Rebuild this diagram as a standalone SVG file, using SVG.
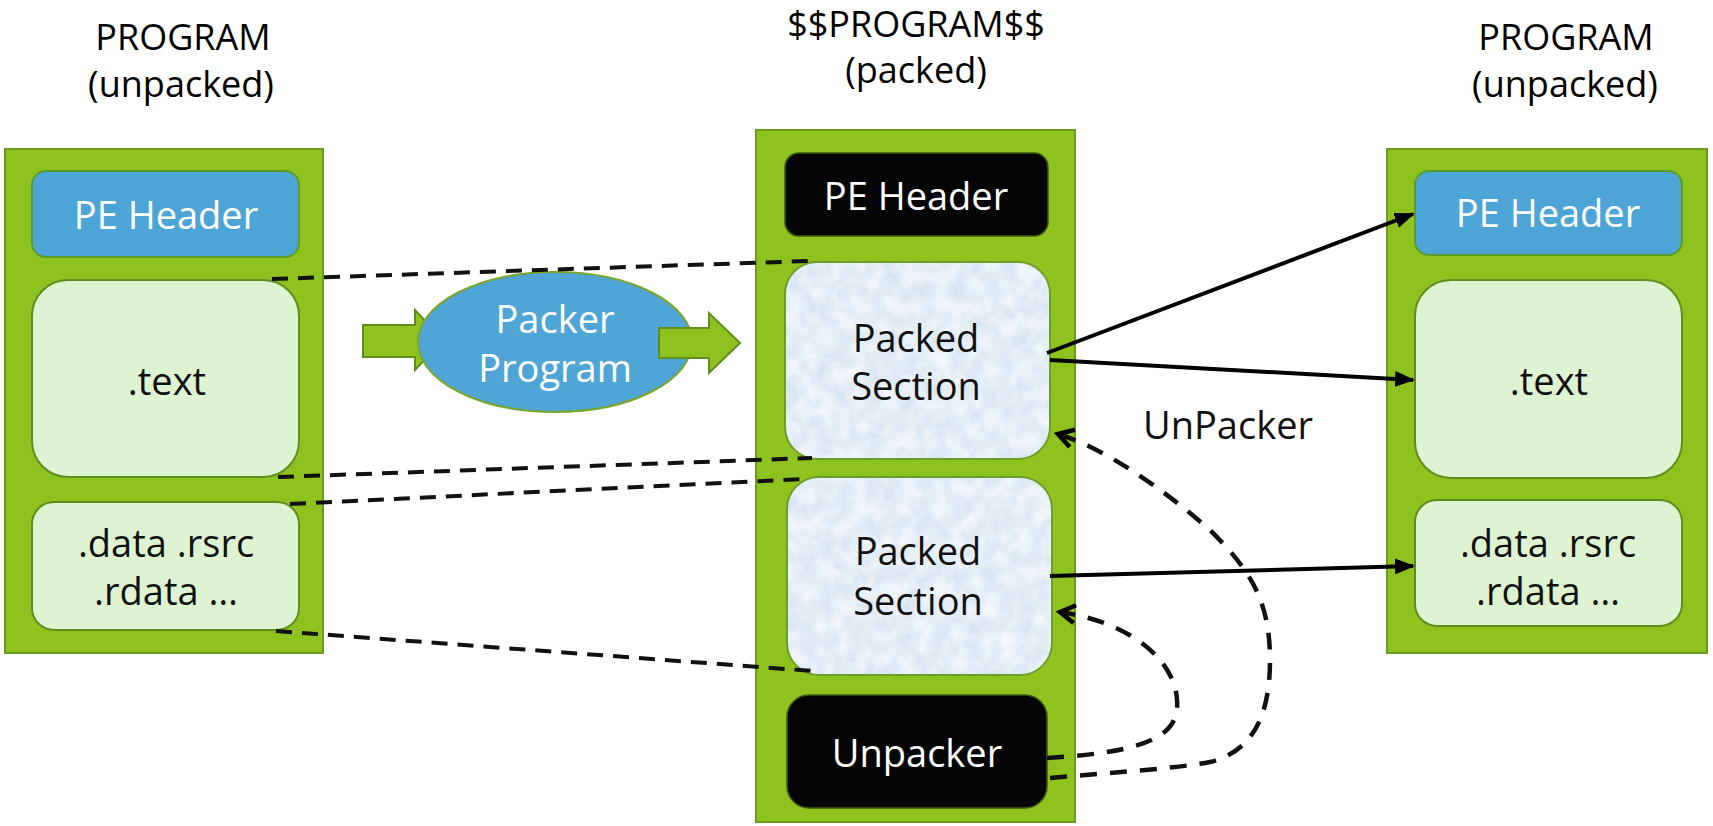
<svg xmlns="http://www.w3.org/2000/svg" width="1713" height="826" viewBox="0 0 1713 826">
<style>
  .title { font-family: "Open Sans", "Noto Sans", sans-serif; font-size: 36px; fill: #000; text-anchor: middle; }
  .lbl { font-family: "Open Sans", "Noto Sans", sans-serif; font-size: 38px; text-anchor: middle; }
  .white { fill: #ffffff; }
  .dark { fill: #111111; }
  .col { fill: #8dc21f; stroke: #6b9a1d; stroke-width: 2; }
  .blue { fill: #4da5d7; stroke: #5c9a2a; stroke-width: 2; }
  .light { fill: #def3d2; stroke: #5d8f1e; stroke-width: 2; }
  .blk { fill: #050505; stroke: #3b5a12; stroke-width: 1.5; }
  .packfill { fill: #d6e4f2; }
  .packedge { fill: none; stroke: #6d9e2c; stroke-width: 2; }
  .dash { fill: none; stroke: #111; stroke-width: 4; stroke-dasharray: 16 10; }
  .curve { fill: none; stroke: #111; stroke-width: 4.5; stroke-dasharray: 17 13; }
  .solid { fill: none; stroke: #000; stroke-width: 4; }
  .garrow { fill: #8dc21f; stroke: #5f8f1a; stroke-width: 2; }
</style>
<defs>
  <marker id="tri" markerUnits="userSpaceOnUse" markerWidth="20" markerHeight="16" refX="18" refY="8" orient="auto">
    <path d="M0,0 L20,8 L0,16 z" fill="#000"/>
  </marker>
  <marker id="chev" markerUnits="userSpaceOnUse" markerWidth="22" markerHeight="24" refX="17" refY="11" orient="auto">
    <path d="M2,2 L17,11 L2,20" fill="none" stroke="#000" stroke-width="4.5"/>
  </marker>
  <filter id="mottle" x="0" y="0" width="100%" height="100%">
    <feTurbulence type="fractalNoise" baseFrequency="0.06" numOctaves="3" seed="5" result="n"/>
    <feColorMatrix in="n" type="matrix" values="0 0 0 0 1  0 0 0 0 1  0 0 0 0 1  0 0 0 1.0 -0.15" result="w"/>
    <feComposite in="w" in2="SourceGraphic" operator="in" result="wc"/>
    <feMerge><feMergeNode in="SourceGraphic"/><feMergeNode in="wc"/></feMerge>
  </filter>
</defs>
<rect width="1713" height="826" fill="#ffffff"/>

<!-- titles -->
<g id="title-left">
  <text class="title" x="183" y="50">PROGRAM</text>
  <text class="title" x="181" y="97">(unpacked)</text>
</g>
<g id="title-mid">
  <text class="title" x="916" y="37">$$PROGRAM$$</text>
  <text class="title" x="916" y="83">(packed)</text>
</g>
<g id="title-right">
  <text class="title" x="1566" y="50">PROGRAM</text>
  <text class="title" x="1565" y="97">(unpacked)</text>
</g>

<!-- left column -->
<g id="left-program">
  <rect class="col" x="5" y="149" width="318" height="504"/>
  <g id="left-pe-header">
    <rect class="blue" x="32" y="171" width="267" height="86" rx="14"/>
    <text class="lbl white" x="166" y="229">PE Header</text>
  </g>
  <g id="left-text">
    <rect class="light" x="32" y="280" width="267" height="197" rx="36"/>
    <text class="lbl dark" x="167" y="395">.text</text>
  </g>
  <g id="left-data">
    <rect class="light" x="32" y="502" width="267" height="128" rx="22"/>
    <text class="lbl dark" x="166" y="557">.data .rsrc</text>
    <text class="lbl dark" x="166" y="605">.rdata …</text>
  </g>
</g>

<!-- packer program -->
<g id="packer">
  <path class="garrow" d="M363,325 L415,325 L415,310 L443,340 L415,370 L415,357 L363,357 z"/>
  <ellipse cx="555" cy="342" rx="137" ry="70" fill="#4fa6d6" stroke="#7aa52a" stroke-width="2"/>
  <path class="garrow" d="M659,328 L709,328 L709,313 L740,343 L709,373 L709,358 L659,358 z"/>
  <text class="lbl white" x="555" y="333">Packer</text>
  <text class="lbl white" x="555" y="382">Program</text>
</g>

<!-- middle column -->
<g id="packed-program">
  <rect class="col" x="756" y="130" width="319" height="692"/>
  <g id="mid-pe-header">
    <rect class="blk" x="785" y="153" width="263" height="83" rx="14"/>
    <text class="lbl white" x="916" y="210">PE Header</text>
  </g>
  <g id="packed-section-1">
    <rect class="packfill" x="785" y="262" width="265" height="197" rx="32" filter="url(#mottle)"/>
    <rect class="packedge" x="785" y="262" width="265" height="197" rx="32"/>
    <text class="lbl dark" x="916" y="352">Packed</text>
    <text class="lbl dark" x="916" y="400">Section</text>
  </g>
  <g id="packed-section-2">
    <rect class="packfill" x="787" y="477" width="265" height="198" rx="32" filter="url(#mottle)"/>
    <rect class="packedge" x="787" y="477" width="265" height="198" rx="32"/>
    <text class="lbl dark" x="918" y="565">Packed</text>
    <text class="lbl dark" x="918" y="615">Section</text>
  </g>
  <g id="unpacker">
    <rect class="blk" x="787" y="695" width="260" height="113" rx="22"/>
    <text class="lbl white" x="917" y="767">Unpacker</text>
  </g>
</g>

<!-- right column -->
<g id="right-program">
  <rect class="col" x="1387" y="149" width="320" height="504"/>
  <g id="right-pe-header">
    <rect class="blue" x="1415" y="171" width="267" height="84" rx="14"/>
    <text class="lbl white" x="1548" y="227">PE Header</text>
  </g>
  <g id="right-text">
    <rect class="light" x="1415" y="280" width="267" height="198" rx="36"/>
    <text class="lbl dark" x="1549" y="395">.text</text>
  </g>
  <g id="right-data">
    <rect class="light" x="1415" y="500" width="267" height="126" rx="22"/>
    <text class="lbl dark" x="1548" y="557">.data .rsrc</text>
    <text class="lbl dark" x="1548" y="605">.rdata …</text>
  </g>
</g>

<text id="unpacker-label" class="lbl dark" x="1228" y="439">UnPacker</text>

<!-- connectors -->
<g id="connectors">
  <line class="dash" x1="272" y1="279" x2="808" y2="261"/>
  <line class="dash" x1="278" y1="477" x2="812" y2="458"/>
  <line class="dash" x1="290" y1="504" x2="803" y2="479"/>
  <line class="dash" x1="276" y1="631" x2="813" y2="671"/>

  <line class="solid" x1="1047" y1="353" x2="1413" y2="214" marker-end="url(#tri)"/>
  <line class="solid" x1="1050" y1="360" x2="1413" y2="380" marker-end="url(#tri)"/>
  <line class="solid" x1="1050" y1="576" x2="1413" y2="566" marker-end="url(#tri)"/>

  <path class="curve" d="M1047,758 C1150,752 1180,735 1177,700 C1175,660 1130,622 1060,612" marker-end="url(#chev)"/>
  <path class="curve" d="M1050,778 C1120,772 1180,768 1210,762 C1250,752 1270,720 1270,660 C1270,600 1250,570 1210,530 C1170,495 1110,450 1058,434" marker-end="url(#chev)"/>
</g>
</svg>
